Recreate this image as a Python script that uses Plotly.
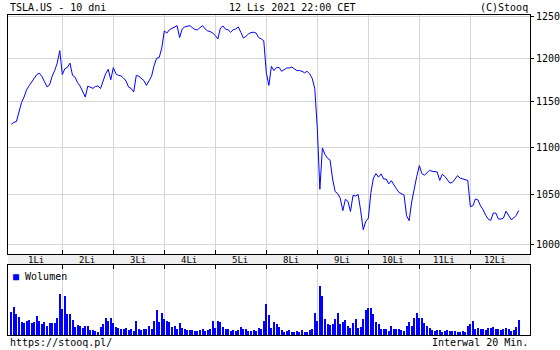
import math
import plotly.graph_objects as go

# ---------------- data ----------------
day_labels = ["1Li", "2Li", "3Li", "4Li", "5Li", "8Li", "9Li", "10Li", "11Li", "12Li"]
bars_per_day = 20
y_ticks = [1000, 1050, 1100, 1150, 1200, 1250]

price_d1 = [1124.8, 1127.0, 1127.8, 1137.0, 1149.0, 1155.2, 1163.6, 1168.2, 1172.7, 1178.0,
            1181.0, 1182.5, 1178.8, 1172.7, 1167.0, 1169.0, 1179.0, 1185.6, 1194.3, 1209.0]
price_d2 = [1181.0, 1187.8, 1189.3, 1194.3, 1180.2, 1178.0, 1171.6, 1167.7, 1161.4, 1155.2,
            1167.7, 1166.6, 1165.1, 1167.4, 1167.7, 1165.0, 1174.0, 1182.0, 1187.0, 1175.0]
price_d3 = [1189.0, 1182.0, 1180.0, 1179.5, 1177.0, 1173.5, 1166.5, 1165.0, 1161.0, 1180.0,
            1179.0, 1176.5, 1174.0, 1168.5, 1174.5, 1179.0, 1191.6, 1200.0, 1201.0, 1212.0]
price_d4 = [1232.6, 1230.0, 1234.0, 1236.0, 1237.5, 1239.0, 1224.6, 1235.0, 1237.5, 1237.8,
            1239.0, 1236.6, 1234.2, 1234.0, 1236.0, 1239.0, 1235.0, 1232.6, 1231.8, 1230.0]
price_d5 = [1227.0, 1223.0, 1236.0, 1238.6, 1234.7, 1234.0, 1231.0, 1234.0, 1235.0, 1237.4,
            1231.0, 1224.0, 1226.0, 1229.0, 1230.6, 1231.0, 1230.0, 1224.6, 1223.0, 1220.7]
price_d6 = [1183.0, 1168.5, 1190.5, 1185.6, 1189.3, 1189.3, 1184.8, 1186.7, 1188.6, 1188.6,
            1189.8, 1187.5, 1185.6, 1185.6, 1184.8, 1183.0, 1184.8, 1181.8, 1176.5, 1165.0]
price_d7 = [1120.0, 1055.4, 1099.0, 1092.0, 1088.0, 1086.0, 1066.0, 1053.0, 1051.0, 1046.0,
            1033.5, 1045.0, 1043.0, 1032.7, 1049.0, 1048.5, 1050.0, 1033.4, 1014.4, 1022.7]
price_d8 = [1026.0, 1052.0, 1067.0, 1071.7, 1068.0, 1071.4, 1066.0, 1066.0, 1061.0, 1064.3,
            1060.7, 1056.0, 1052.2, 1050.4, 1049.4, 1028.4, 1023.4, 1042.4, 1056.5, 1068.8]
price_d9 = [1080.2, 1071.7, 1070.0, 1072.4, 1075.2, 1074.2, 1074.2, 1073.5, 1064.6, 1071.0,
            1068.8, 1065.3, 1061.8, 1062.5, 1066.0, 1069.6, 1067.0, 1066.0, 1065.3, 1064.6]
price_d10 = [1037.7, 1038.4, 1045.4, 1044.4, 1038.4, 1034.4, 1029.0, 1025.0, 1023.7, 1031.0,
             1031.0, 1025.0, 1025.0, 1026.0, 1033.0, 1028.7, 1024.4, 1026.0, 1028.7, 1033.7]

# volume (thousand shares per 20-minute bar)
vol_d1 = [2300, 2800, 2100, 1800, 1300, 1200, 1400, 1500, 1200, 1300,
          1900, 1400, 1100, 1300, 900, 1200, 1200, 1200, 1700, 4100]
vol_d2 = [2600, 3900, 2100, 2100, 1500, 800, 1000, 900, 700, 900,
          900, 500, 500, 400, 300, 800, 1100, 1700, 1400, 1700]
vol_d3 = [1200, 800, 700, 600, 600, 700, 500, 600, 400, 1400,
          600, 500, 600, 600, 900, 600, 1400, 2500, 1300, 2200]
vol_d4 = [1600, 1400, 1300, 800, 900, 600, 1200, 700, 600, 500,
          500, 500, 400, 400, 500, 600, 400, 500, 600, 1400]
vol_d5 = [700, 1400, 1300, 800, 600, 600, 400, 500, 400, 500,
          800, 600, 600, 400, 400, 500, 400, 700, 600, 1400]
vol_d6 = [3100, 2000, 700, 1300, 1100, 800, 500, 300, 400, 500,
          300, 300, 400, 300, 500, 300, 300, 500, 600, 2200]
vol_d7 = [1400, 4900, 3900, 1600, 1100, 1000, 1100, 1600, 2200, 1100,
          1300, 1500, 900, 700, 1200, 1600, 700, 800, 1600, 2500]
vol_d8 = [2700, 2700, 2100, 1300, 1100, 600, 600, 600, 400, 900,
          600, 600, 600, 500, 400, 900, 1300, 900, 1700, 2200]
vol_d9 = [1700, 1700, 1200, 900, 700, 500, 400, 500, 500, 300,
          400, 500, 400, 400, 400, 300, 300, 400, 300, 900]
vol_d10 = [1100, 1400, 600, 700, 600, 600, 500, 700, 700, 800,
           600, 600, 500, 600, 700, 600, 400, 500, 800, 1500]

price = (price_d1 + price_d2 + price_d3 + price_d4 + price_d5 +
         price_d6 + price_d7 + price_d8 + price_d9 + price_d10)
volume = (vol_d1 + vol_d2 + vol_d3 + vol_d4 + vol_d5 +
          vol_d6 + vol_d7 + vol_d8 + vol_d9 + vol_d10)
bar_index = list(range(len(price)))

day_starts = [bars_per_day * d for d in range(1, len(day_labels))]
day_centers = [bars_per_day * d + (bars_per_day - 1) / 2 for d in range(len(day_labels))]

# ---------------- layout geometry ----------------
W, H = 560, 350
ML, MR, MT, MB = 8, 30, 15, 15
plot_w = W - ML - MR
plot_h = H - MT - MB
price_bottom_px = 254
band_bottom_px = 265
price_dom0 = (H - MB - price_bottom_px) / plot_h
vol_dom1 = (H - MB - band_bottom_px) / plot_h

FONT = "DejaVu Sans Mono"
GRID = "#d6d6d6"
BLUE = "#0000ff"

fig = go.Figure()
fig.add_trace(go.Scatter(x=bar_index, y=price, mode="lines",
                         line=dict(color=BLUE, width=1),
                         xaxis="x", yaxis="y", showlegend=False, hoverinfo="skip"))
fig.add_trace(go.Bar(x=bar_index, y=volume, width=0.4,
                     marker=dict(color=BLUE, line=dict(width=0)),
                     xaxis="x2", yaxis="y2", showlegend=False, hoverinfo="skip"))
# legend entry: the coloured square is part of the legend text
fig.add_trace(go.Scatter(x=[None], y=[None], mode="markers",
                         name="<span style='color:#0000ff'>\u25a0</span> Wolumen",
                         marker=dict(size=1, color="rgba(0,0,0,0)"),
                         xaxis="x2", yaxis="y2", showlegend=True))

xrange = [-1.3, 203.4]
yrange = [math.log10(990.5), math.log10(1252.0)]

common_x = dict(range=xrange, tickmode="array", tickvals=day_starts, showticklabels=False,
                ticks="inside", ticklen=4, tickcolor="black", tickwidth=1,
                showgrid=True, gridcolor=GRID, gridwidth=1,
                showline=True, linecolor="black", linewidth=1, mirror=True,
                zeroline=False, fixedrange=True)

fig.update_layout(
    width=W, height=H,
    margin=dict(l=ML, r=MR, t=MT, b=MB, pad=0, autoexpand=False),
    paper_bgcolor="white", plot_bgcolor="white",
    font=dict(family=FONT, size=10, color="black"),
    bargap=0,
    xaxis=dict(domain=[0, 1], anchor="y", **common_x),
    xaxis2=dict(domain=[0, 1], anchor="y2", side="top", matches="x", **common_x),
    yaxis=dict(domain=[price_dom0, 1], anchor="x", side="right", type="log",
               range=yrange, tickmode="array", tickvals=y_ticks,
               ticktext=[str(v) for v in y_ticks],
               ticks="outside", ticklen=3, tickcolor="black",
               tickfont=dict(family=FONT, size=10, color="black"),
               showgrid=True, gridcolor=GRID, gridwidth=1,
               showline=True, linecolor="black", linewidth=1, mirror=True,
               zeroline=False, fixedrange=True),
    yaxis3=dict(overlaying="y", anchor="x", side="left", type="log", range=yrange,
                tickmode="array", tickvals=y_ticks, showticklabels=False,
                ticks="inside", ticklen=3, tickcolor="black",
                showgrid=False, showline=False, zeroline=False, fixedrange=True),
    yaxis2=dict(domain=[0, vol_dom1], anchor="x2", side="right", range=[0, 7000],
                showticklabels=False, ticks="", showgrid=False,
                showline=True, linecolor="black", linewidth=1, mirror=True,
                zeroline=False, fixedrange=True),
    legend=dict(x=-35 / plot_w, xanchor="left", y=vol_dom1 + 3 / plot_h, yanchor="top",
                bgcolor="rgba(0,0,0,0)", borderwidth=0,
                font=dict(family=FONT, size=10, color="black"),
                itemwidth=30, tracegroupgap=0),
    shapes=[dict(type="rect", xref="paper", yref="paper", x0=0, x1=1,
                 y0=vol_dom1, y1=price_dom0, fillcolor="#eeeeee",
                 line=dict(width=0), layer="below")],
)

annotations = []
for lab, cx in zip(day_labels, day_centers):
    annotations.append(dict(text=lab, x=cx, xref="x", y=(vol_dom1 + price_dom0) / 2,
                            yref="paper", showarrow=False, xanchor="center", yanchor="middle",
                            font=dict(family=FONT, size=9, color="black")))

annotations += [
    dict(text="TSLA.US - 10 dni", xref="paper", yref="paper", x=0, y=1,
         xanchor="left", yanchor="bottom", showarrow=False),
    dict(text="12 Lis 2021 22:00 CET", xref="paper", yref="paper", x=(227 - ML) / plot_w,
         y=1, xanchor="left", yanchor="bottom", showarrow=False),
    dict(text="(C)Stooq", xref="paper", yref="paper", x=1, y=1,
         xanchor="right", yanchor="bottom", showarrow=False),
    dict(text="https://stooq.pl/", xref="paper", yref="paper", x=0, y=0,
         xanchor="left", yanchor="top", showarrow=False),
    dict(text="Interwal 20 Min.", xref="paper", yref="paper", x=1, y=0,
         xanchor="right", yanchor="top", showarrow=False),
]
fig.update_layout(annotations=annotations)

fig.write_html("out.html", config={"displayModeBar": False})
